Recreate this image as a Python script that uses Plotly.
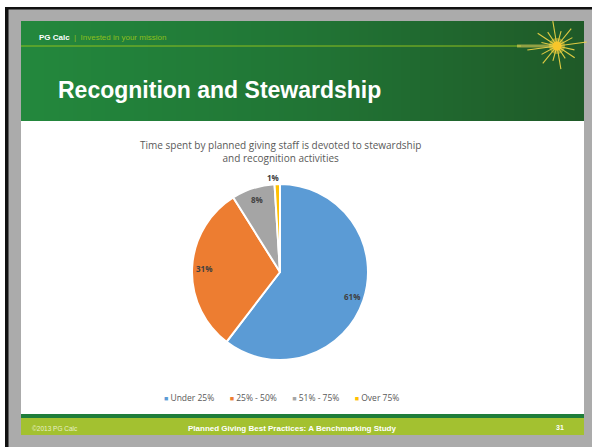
import math
import plotly.graph_objects as go

# ---- data -------------------------------------------------------------
categories = ["Under 25%", "25% - 50%", "51% - 75%", "Over 75%"]
shares = [61, 31, 8, 1]
slice_colors = ["#5B9BD5", "#ED7D31", "#A5A5A5", "#FFC000"]

chart_title = "Time spent by planned giving staff is devoted to stewardship<br>and recognition activities"
slide_title = "Recognition and Stewardship"
footer_text = "Planned Giving Best Practices: A Benchmarking Study"
page_number = "31"

W, H = 592, 447

# pie placement (pixels)
PIE_CX, PIE_CY, PIE_R = 280, 272, 88

shapes = []


def rect(x0, y0, x1, y1, color, layer="below"):
    shapes.append(dict(type="rect", xref="x", yref="y", x0=x0, x1=x1, y0=y0, y1=y1,
                       fillcolor=color, line=dict(width=0), layer=layer))


# page frame
rect(5, 7, W, H, "#ababab")
rect(5, 7, W, 9.5, "#111111")
rect(5, 7, 8.5, H, "#111111")

# slide body
rect(21, 21, 584, 435, "#ffffff")
# header fallback colour under the gradient
rect(21, 21, 584, 121, "#217535")

# footer bands
rect(21, 414, 584, 418, "#1e7d3a")
rect(21, 418, 584, 435, "#a3c130")

fig = go.Figure()

# header band: horizontal gradient rendered as a single heatmap image
n = 120
hx0, hx1 = 21, 584
dx = (hx1 - hx0) / n
fig.add_trace(go.Heatmap(
    z=[[i / (n - 1) for i in range(n)]],
    x0=hx0 + dx / 2, dx=dx, y0=71, dy=100,
    colorscale=[[0, "#23883d"], [0.5, "#217535"], [1, "#1f5a28"]],
    showscale=False, hoverinfo="skip", zsmooth=False, xaxis="x", yaxis="y",
))
fig.add_trace(go.Scatter(x=[21, 521], y=[46, 46], mode="lines",
                         line=dict(color="#8dbf1e", width=1),
                         hoverinfo="skip", showlegend=False, xaxis="x", yaxis="y"))

# starburst ornament
cx, cy = 557, 46
ray_len = [30, 18, 24, 17, 28, 18, 24, 16, 30, 18, 24, 17, 26, 16, 22, 18]
for k, L in enumerate(ray_len):
    ang = 2 * math.pi * k / len(ray_len) + 0.15
    fig.add_trace(go.Scatter(x=[cx, cx + L * math.cos(ang)], y=[cy, cy - L * math.sin(ang) * 0.9],
                             mode="lines", line=dict(color="rgba(245,215,70,0.9)", width=1.1),
                             hoverinfo="skip", showlegend=False, xaxis="x", yaxis="y"))
# glow streak to the left
fig.add_trace(go.Scatter(x=[cx - 40, cx], y=[cy, cy], mode="lines",
                         line=dict(color="rgba(240,215,90,0.55)", width=3),
                         hoverinfo="skip", showlegend=False, xaxis="x", yaxis="y"))
fig.add_trace(go.Scatter(x=[cx], y=[cy], mode="markers",
                         marker=dict(size=16, color="rgba(250,210,60,0.45)", line=dict(width=0)),
                         hoverinfo="skip", showlegend=False, xaxis="x", yaxis="y"))
fig.add_trace(go.Scatter(x=[cx], y=[cy], mode="markers",
                         marker=dict(size=9, color="#f8c62a", line=dict(width=0)),
                         hoverinfo="skip", showlegend=False, xaxis="x", yaxis="y"))

# the pie
fig.add_trace(go.Pie(
    labels=categories,
    values=shares,
    sort=False,
    direction="clockwise",
    rotation=0,
    marker=dict(colors=slice_colors, line=dict(color="#ffffff", width=2)),
    textinfo="none",
    hoverinfo="label+value",
    showlegend=False,
    domain=dict(x=[(PIE_CX - PIE_R) / W, (PIE_CX + PIE_R) / W],
                y=[1 - (PIE_CY + PIE_R) / H, 1 - (PIE_CY - PIE_R) / H]),
))

annotations = [
    dict(x=37, y=37, xref="x", yref="y", text="<b>PG Calc</b>", showarrow=False,
         xanchor="left", yanchor="middle", font=dict(family="Liberation Sans", size=8, color="#ffffff")),
    dict(x=72, y=37, xref="x", yref="y", text="|  Invested in your mission", showarrow=False,
         xanchor="left", yanchor="middle", font=dict(family="Liberation Sans", size=8, color="#8dbf1e")),
    dict(x=56, y=90, xref="x", yref="y", text="<b>" + slide_title + "</b>", showarrow=False,
         xanchor="left", yanchor="middle", font=dict(family="Liberation Sans", size=23, color="#ffffff")),
    dict(x=280, y=151, xref="x", yref="y", text=chart_title, showarrow=False,
         xanchor="center", yanchor="middle", font=dict(family="Open Sans", size=10, color="#595959")),
    dict(x=30, y=428, xref="x", yref="y", text="©2013 PG Calc", showarrow=False,
         xanchor="left", yanchor="middle", font=dict(family="Liberation Sans", size=6.5, color="#e8f0c8")),
    dict(x=292, y=428, xref="x", yref="y", text="<b>" + footer_text + "</b>", showarrow=False,
         xanchor="center", yanchor="middle", font=dict(family="Liberation Sans", size=8, color="#ffffff")),
    dict(x=560, y=427, xref="x", yref="y", text="<b>" + page_number + "</b>", showarrow=False,
         xanchor="center", yanchor="middle", font=dict(family="Liberation Sans", size=7, color="#ffffff")),
]

# percentage labels, placed along each slice's bisector
total = sum(shares)
cum = 0
for v in shares:
    mid = (cum + v / 2) / total * 2 * math.pi
    cum += v
    frac = 0.86 if v >= 5 else 1.08
    lx = PIE_CX + PIE_R * frac * math.sin(mid)
    ly = PIE_CY - PIE_R * frac * math.cos(mid)
    if v < 5:
        lx -= 4
    annotations.append(dict(x=lx, y=ly, xref="x", yref="y", text="<b>%d%%</b>" % v, showarrow=False,
                            xanchor="center", yanchor="middle",
                            font=dict(family="Open Sans", size=8, color="#404040")))

# legend row
legend_items = []
for name, col in zip(categories, slice_colors):
    legend_items.append("<span style='color:%s;font-size:7px'>■</span> %s" % (col, name))
annotations.append(dict(x=281, y=397, xref="x", yref="y", text="       ".join(legend_items),
                        showarrow=False, xanchor="center", yanchor="middle",
                        font=dict(family="Open Sans", size=8.5, color="#595959")))

fig.update_layout(
    width=W, height=H,
    margin=dict(l=0, r=0, t=0, b=0),
    paper_bgcolor="#ffffff",
    plot_bgcolor="rgba(0,0,0,0)",
    xaxis=dict(range=[0, W], visible=False, fixedrange=True, domain=[0, 1]),
    yaxis=dict(range=[H, 0], visible=False, fixedrange=True, domain=[0, 1]),
    shapes=shapes,
    annotations=annotations,
    showlegend=False,
)

fig.write_html("out.html")
